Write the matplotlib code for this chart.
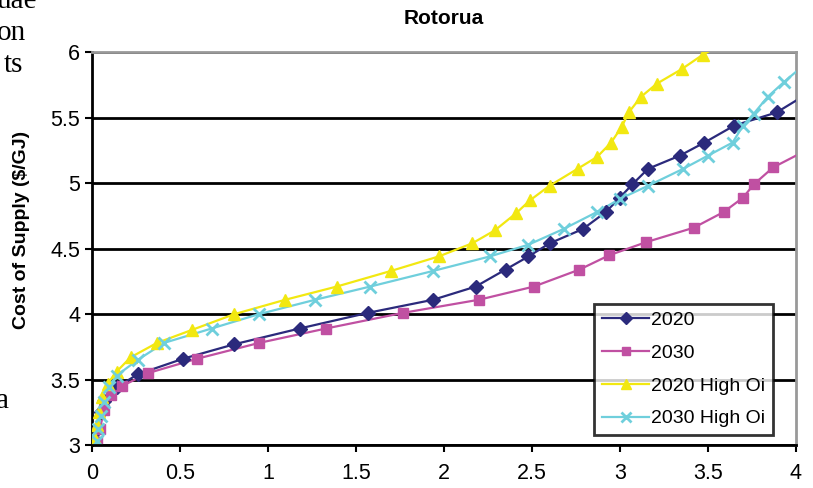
import numpy as np
import matplotlib.pyplot as plt

plt.rcParams['font.family'] = ['Liberation Sans', 'DejaVu Sans']

# values (supply in PJ on x, $/GJ on y)
x_2020 = [0.02, 0.03, 0.05, 0.07, 0.14, 0.26, 0.52, 0.81, 1.18, 1.57, 1.94, 2.18, 2.35, 2.48,
          2.60, 2.79, 2.92, 3.00, 3.07, 3.16, 3.34, 3.48, 3.65, 3.89]
y_2020 = [3.02, 3.12, 3.25, 3.34, 3.44, 3.54, 3.66, 3.77, 3.89, 4.01, 4.11, 4.21, 4.34, 4.44,
          4.54, 4.65, 4.78, 4.89, 4.99, 5.11, 5.21, 5.31, 5.44, 5.54]

x_2030 = [0.03, 0.045, 0.07, 0.11, 0.17, 0.32, 0.60, 0.95, 1.33, 1.77, 2.20, 2.51, 2.77, 2.94,
          3.15, 3.42, 3.59, 3.70, 3.76, 3.87]
y_2030 = [3.02, 3.12, 3.27, 3.38, 3.45, 3.55, 3.66, 3.78, 3.89, 4.01, 4.11, 4.21, 4.34, 4.45,
          4.55, 4.66, 4.78, 4.89, 4.99, 5.12]

x_2020_hi = [0.02, 0.03, 0.04, 0.06, 0.09, 0.14, 0.22, 0.37, 0.57, 0.81, 1.10, 1.39, 1.70, 1.97,
             2.16, 2.29, 2.41, 2.49, 2.60, 2.76, 2.87, 2.95, 3.01, 3.05, 3.12, 3.21, 3.35, 3.47]
y_2020_hi = [3.05, 3.15, 3.25, 3.37, 3.47, 3.56, 3.67, 3.78, 3.88, 4.00, 4.11, 4.21, 4.33, 4.44,
             4.54, 4.64, 4.77, 4.87, 4.98, 5.11, 5.20, 5.31, 5.43, 5.54, 5.66, 5.76, 5.87, 5.98]

x_2030_hi = [0.03, 0.035, 0.05, 0.07, 0.10, 0.14, 0.26, 0.41, 0.68, 0.95, 1.27, 1.58, 1.94, 2.26,
             2.48, 2.68, 2.87, 3.00, 3.16, 3.36, 3.50, 3.64, 3.70, 3.76, 3.84, 3.93]
y_2030_hi = [3.03, 3.12, 3.22, 3.33, 3.44, 3.53, 3.65, 3.78, 3.89, 4.00, 4.11, 4.21, 4.33, 4.44,
             4.53, 4.65, 4.78, 4.88, 4.98, 5.11, 5.21, 5.31, 5.44, 5.53, 5.66, 5.77]

# lines run on past the last marker to the plot edge
end_2020 = (4.0, 5.63)
end_2030 = (4.0, 5.21)
end_2020_hi = (3.6, 6.08)
end_2030_hi = (4.0, 5.85)

fig = plt.figure(figsize=(8.13, 4.88), dpi=100)
ax = fig.add_axes([0.113, 0.088, 0.866, 0.805])

series = [
    (x_2020, y_2020, end_2020, '#2b2a7c', 'D', 7, '2020'),
    (x_2030, y_2030, end_2030, '#c050a2', 's', 6.5, '2030'),
    (x_2020_hi, y_2020_hi, end_2020_hi, '#f2e811', '^', 9, '2020 High Oi'),
    (x_2030_hi, y_2030_hi, end_2030_hi, '#6fcfdc', 'x', 9, '2030 High Oi'),
]
for xs, ys, end, col, mk, ms, lab in series:
    ax.plot(list(xs) + [end[0]], list(ys) + [end[1]], color=col, lw=1.6, zorder=3)
    ax.plot(xs, ys, ls='none', marker=mk, ms=ms, color=col, mew=2 if mk == 'x' else 1, zorder=4)
    ax.plot([], [], color=col, lw=1.6, marker=mk, ms=ms * 0.85, mew=2 if mk == 'x' else 1, label=lab)

ax.set_xlim(0, 4)
ax.set_ylim(3, 6)
ax.set_xticks(np.arange(0, 4.01, 0.5))
ax.set_xticklabels(['0', '0.5', '1', '1.5', '2', '2.5', '3', '3.5', '4'])
ax.set_yticks(np.arange(3, 6.01, 0.5))
ax.set_yticklabels(['3', '3.5', '4', '4.5', '5', '5.5', '6'])
ax.tick_params(labelsize=15.5, direction='out', length=5, width=1.5, color='black')
ax.tick_params(axis='x', pad=8)
ax.grid(axis='y', color='black', lw=2)
ax.set_axisbelow(True)
for s in ['top', 'right']:
    ax.spines[s].set_color('#999999')
    ax.spines[s].set_linewidth(2)
for s in ['left', 'bottom']:
    ax.spines[s].set_color('black')
    ax.spines[s].set_linewidth(2)
ax.spines['bottom'].set_zorder(5)

ax.set_title('Rotorua', fontsize=15, fontweight='bold', pad=20)
ax.set_ylabel('Cost of Supply ($/GJ)', fontsize=14, fontweight='bold')
ax.yaxis.set_label_coords(-0.088, 0.547)

leg = ax.legend(loc='lower right', bbox_to_anchor=(0.967, 0.025), fontsize=14, frameon=True,
                fancybox=False, handlelength=2.4, handletextpad=0.1, borderpad=0.4,
                labelspacing=0.78, borderaxespad=0)
leg.get_frame().set_edgecolor('black')
leg.get_frame().set_linewidth(2)

# fragments of the surrounding page text
serif = ['Liberation Serif', 'DejaVu Serif']
fig.text(37 / 813, 1 - 8 / 488, 'uae', family=serif, fontsize=21, ha='right', va='baseline')
fig.text(26 / 813, 1 - 40 / 488, 'on', family=serif, fontsize=21, ha='right', va='baseline')
fig.text(23 / 813, 1 - 72 / 488, 'ts', family=serif, fontsize=21, ha='right', va='baseline')
fig.text(9 / 813, 1 - 408 / 488, 'a', family=serif, fontsize=21, ha='right', va='baseline')

fig.savefig('out.png', dpi=100)
